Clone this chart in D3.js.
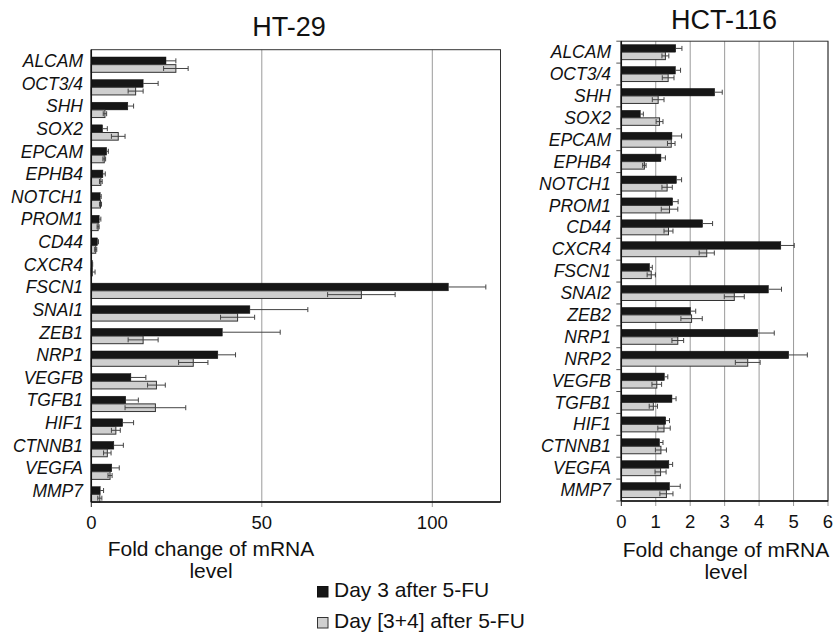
<!DOCTYPE html>
<html><head><meta charset="utf-8">
<script src="https://cdn.jsdelivr.net/npm/d3@7"></script>
<style>body{margin:0;background:#fff}svg{display:block;font-family:"Liberation Sans",Arial,sans-serif}</style>
</head><body><svg id="c" width="834" height="634"></svg>
<script>
const genesHT29 = ["ALCAM","OCT3/4","SHH","SOX2","EPCAM","EPHB4","NOTCH1","PROM1","CD44","CXCR4","FSCN1","SNAI1","ZEB1","NRP1","VEGFB","TGFB1","HIF1","CTNNB1","VEGFA","MMP7"];
const ht29Day3     = [21.9,15.2,10.7,3.3,4.5,3.4,2.6,2.3,1.8,0.3,104.7,46.5,38.4,37.1,11.6,10.1,9.2,6.6,6.0,2.6];
const ht29Day3Err  = [2.9,4.4,1.7,1.4,0.5,0.7,0.3,0.5,0.3,0.1,11,17,17,5.2,4.4,3.7,3.2,2.8,2.2,1.0];
const ht29Day34    = [24.8,13.0,4.0,7.9,3.8,2.8,2.7,2.0,1.3,0.3,79.2,42.9,15.2,29.9,19.1,18.8,7.2,4.7,5.5,2.5];
const ht29Day34Err = [3.6,2.2,0.5,2.0,0.4,0.4,0.3,0.3,0.3,0.8,9.9,5.0,4.4,4.3,2.6,8.9,1.3,1.1,0.6,0.6];
const ht29Ticks = [0,50,100];

const genesHCT116 = ["ALCAM","OCT3/4","SHH","SOX2","EPCAM","EPHB4","NOTCH1","PROM1","CD44","CXCR4","FSCN1","SNAI2","ZEB2","NRP1","NRP2","VEGFB","TGFB1","HIF1","CTNNB1","VEGFA","MMP7"];
const hctDay3     = [1.58,1.57,2.71,0.55,1.47,1.15,1.60,1.49,2.36,4.63,0.82,4.27,2.01,3.96,4.86,1.25,1.47,1.29,1.11,1.38,1.40];
const hctDay3Err  = [0.18,0.15,0.22,0.09,0.28,0.13,0.15,0.16,0.29,0.39,0.08,0.38,0.15,0.48,0.54,0.10,0.12,0.11,0.10,0.11,0.31];
const hctDay34    = [1.28,1.36,1.07,1.11,1.45,0.67,1.33,1.40,1.37,2.48,0.87,3.28,2.04,1.64,3.67,1.03,0.93,1.24,1.15,1.14,1.31];
const hctDay34Err = [0.10,0.17,0.17,0.10,0.11,0.05,0.15,0.24,0.13,0.22,0.12,0.29,0.31,0.17,0.36,0.14,0.12,0.18,0.16,0.16,0.19];
const hctTicks = [0,1,2,3,4,5,6];

const legendLabels = ["Day 3 after 5-FU","Day [3+4] after 5-FU"];
const colors = ["#161616","#cfcfcf"];

const svg = d3.select("#c");

function panel(o){
  const g = svg.append("g");
  const x = d3.scaleLinear().domain(o.domain).range([o.x0,o.x1]);
  const y = d3.scaleBand().domain(o.cats).range([o.y0,o.y1]).padding(0);
  const bw = y.bandwidth();
  const gh = o.groupFrac*bw, bh = gh/2;
  const off = o.bottomAlign ? bw-gh : (bw-gh)/2;
  g.selectAll(".grid").data(o.ticks).join("line")
    .attr("x1",d=>x(d)).attr("x2",d=>x(d))
    .attr("y1",o.y0).attr("y2",o.y1+5)
    .attr("stroke",d=>d===0?"#222":"#9a9a9a").attr("stroke-width",1);
  g.selectAll(".tl").data(o.ticks).join("text")
    .attr("x",d=>x(d)).attr("y",o.y1+27).attr("text-anchor","middle")
    .attr("font-size",18.5).attr("fill","#111").text(d=>d);
  g.append("rect").attr("x",o.x0).attr("y",o.y0).attr("width",o.x1-o.x0).attr("height",o.y1-o.y0)
    .attr("fill","none").attr("stroke","#333").attr("stroke-width",1);
  if(o.yTicks){
    const bounds = o.cats.map(c=>y(c)).concat([o.y1]);
    g.selectAll(".yt").data(bounds).join("line")
      .attr("x1",o.x0-5).attr("x2",o.x0).attr("y1",d=>d).attr("y2",d=>d)
      .attr("stroke","#555").attr("stroke-width",1);
  }
  const series = [[o.a,o.ae],[o.b,o.be]];
  series.forEach((s,si)=>{
    const yy = c=>y(c)+off+si*bh;
    g.selectAll(".bar"+si).data(o.cats).join("rect")
      .attr("x",x(0)).attr("y",c=>yy(c))
      .attr("width",(c,i)=>x(s[0][i])-x(0)).attr("height",bh)
      .attr("fill",colors[si])
      .attr("stroke",si===0?"#111":"#333").attr("stroke-width",si===0?0.5:1);
    const eg = g.selectAll(".err"+si).data(o.cats).join("g");
    const lo = (i)=> si===0 ? s[0][i] : Math.max(0,s[0][i]-s[1][i]);
    eg.append("line")
      .attr("x1",(c,i)=>x(lo(i))).attr("x2",(c,i)=>x(s[0][i]+s[1][i]))
      .attr("y1",c=>yy(c)+bh/2).attr("y2",c=>yy(c)+bh/2).attr("stroke","#444").attr("stroke-width",1);
    const caps = si===0 ? [1] : [-1,1];
    caps.forEach(sg=>{
      eg.append("line")
        .attr("x1",(c,i)=>x(Math.max(0,s[0][i]+sg*s[1][i]))).attr("x2",(c,i)=>x(Math.max(0,s[0][i]+sg*s[1][i])))
        .attr("y1",c=>yy(c)+bh/2-2.5).attr("y2",c=>yy(c)+bh/2+2.5).attr("stroke","#444").attr("stroke-width",1);
    });
  });
  g.append("line").attr("x1",o.x0).attr("x2",o.x0).attr("y1",o.y0).attr("y2",o.y1).attr("stroke","#111").attr("stroke-width",1.5);
  g.append("line").attr("x1",o.x0).attr("x2",o.x1).attr("y1",o.y1).attr("y2",o.y1).attr("stroke","#111").attr("stroke-width",1.5);
  g.selectAll(".cl").data(o.cats).join("text")
    .attr("x",o.labelX).attr("y",c=>y(c)+bw/2).attr("dy","0.35em")
    .attr("text-anchor","end").attr("font-size",17.5).attr("font-style","italic").attr("fill","#111")
    .text(c=>c);
  g.append("text").attr("x",o.titleX).attr("y",o.titleY).attr("text-anchor","middle")
    .attr("font-size",27).attr("fill","#111").text(o.title);
  const at = g.append("text").attr("text-anchor","middle").attr("font-size",21).attr("fill","#111");
  at.append("tspan").attr("x",o.axX).attr("y",o.axY).text("Fold change of mRNA");
  at.append("tspan").attr("x",o.axX).attr("y",o.axY+22).text("level");
}

panel({cats:genesHT29,a:ht29Day3,ae:ht29Day3Err,b:ht29Day34,be:ht29Day34Err,
  domain:[0,120],ticks:ht29Ticks,x0:91.3,x1:500.5,y0:49.7,y1:502,groupFrac:0.677,bottomAlign:true,
  yTicks:false,labelX:83,title:"HT-29",titleX:289,titleY:36,axX:211,axY:556});
panel({cats:genesHCT116,a:hctDay3,ae:hctDay3Err,b:hctDay34,be:hctDay34Err,
  domain:[0,6],ticks:hctTicks,x0:621.3,x1:828,y0:41.2,y1:501,groupFrac:0.685,bottomAlign:false,
  yTicks:true,labelX:611,title:"HCT-116",titleX:724,titleY:29,axX:726,axY:557});

const lg = svg.append("g");
legendLabels.forEach((l,i)=>{
  const yb = 597 + i*31;
  lg.append("rect").attr("x",317.5).attr("y",yb-10.5).attr("width",10.5).attr("height",10.5)
    .attr("fill",colors[i]).attr("stroke",i===0?"#111":"#333").attr("stroke-width",1);
  lg.append("text").attr("x",334).attr("y",yb).attr("font-size",21).attr("fill","#111").text(l);
});
</script></body></html>
